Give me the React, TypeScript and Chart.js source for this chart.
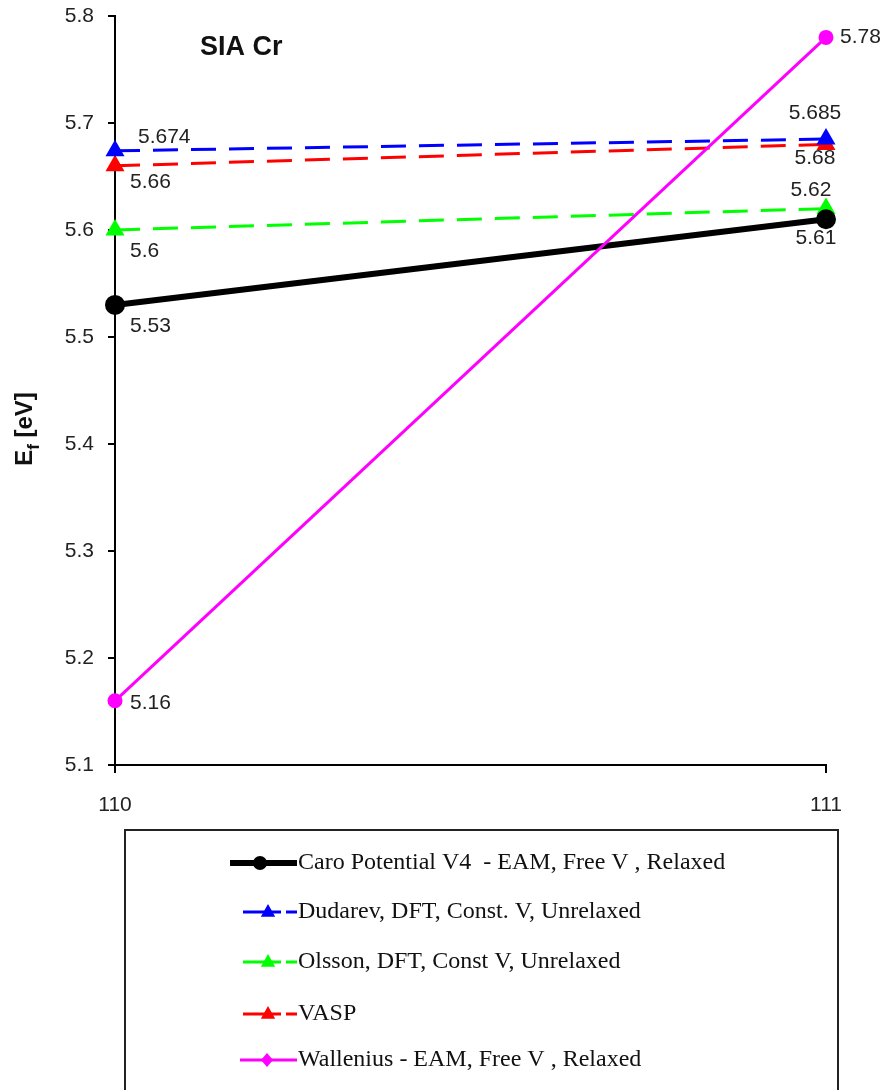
import React, { useEffect, useRef } from "react";
import { Chart, registerables } from "chart.js";

Chart.register(...registerables);

const categories = ["110", "111"];
const caroValues = [5.53, 5.61];
const dudarevValues = [5.674, 5.685];
const olssonValues = [5.6, 5.62];
const vaspValues = [5.66, 5.68];
const walleniusValues = [5.16, 5.78];
const yMin = 5.1;
const yMax = 5.8;
const yStep = 0.1;
const seriesNames = [
  "Caro Potential V4  - EAM, Free V , Relaxed",
  "Dudarev, DFT, Const. V, Unrelaxed",
  "Olsson, DFT, Const V, Unrelaxed",
  "VASP",
  "Wallenius - EAM, Free V , Relaxed",
];
const chartTitle = "SIA Cr";

// label placement (offsets in px from the point)
const labelPlacement = [
  [{ dx: 15, dy: 21, align: "left" }, { dx: -10, dy: 19, align: "center" }],
  [{ dx: 23, dy: -14, align: "left" }, { dx: -11, dy: -26, align: "center" }],
  [{ dx: 15, dy: 21, align: "left" }, { dx: -15, dy: -18, align: "center" }],
  [{ dx: 15, dy: 16, align: "left" }, { dx: -11, dy: 14, align: "center" }],
  [{ dx: 15, dy: 2, align: "left" }, { dx: 14, dy: 0, align: "left" }],
];

const LABEL_FONT = "21px 'Liberation Sans', Arial, sans-serif";

const annotations = {
  id: "annotations",
  afterDatasetsDraw(chart: any) {
    const ctx = chart.ctx;
    ctx.save();
    // data labels
    ctx.font = LABEL_FONT;
    ctx.fillStyle = "#222";
    ctx.textBaseline = "middle";
    chart.data.datasets.forEach((ds: any, di: number) => {
      const meta = chart.getDatasetMeta(di);
      meta.data.forEach((pt: any, pi: number) => {
        const p = labelPlacement[di][pi];
        ctx.textAlign = p.align;
        ctx.fillText(String(ds.data[pi]), pt.x + p.dx, pt.y + p.dy);
      });
    });
    // title
    ctx.font = "bold 27px 'Liberation Sans', Arial, sans-serif";
    ctx.fillStyle = "#111";
    ctx.textAlign = "left";
    ctx.textBaseline = "alphabetic";
    ctx.fillText(chartTitle, 200, 55);

    // y axis title
    ctx.save();
    ctx.translate(32, 429);
    ctx.rotate(-Math.PI / 2);
    ctx.textBaseline = "alphabetic";
    ctx.fillStyle = "#111";
    const mainFont = "bold 24px 'Liberation Sans', Arial, sans-serif";
    const subFont = "bold 17px 'Liberation Sans', Arial, sans-serif";
    ctx.font = mainFont;
    const wE = ctx.measureText("E").width;
    ctx.font = subFont;
    const wf = ctx.measureText("f").width;
    ctx.font = mainFont;
    const wRest = ctx.measureText(" [eV]").width;
    const total = wE + wf + wRest;
    let x = -total / 2;
    ctx.textAlign = "left";
    ctx.fillText("E", x, 0);
    x += wE;
    ctx.font = subFont;
    ctx.fillText("f", x, 7);
    x += wf;
    ctx.font = mainFont;
    ctx.fillText(" [eV]", x, 0);
    ctx.restore();

    // legend box
    const boxL = 125, boxT = 830, boxR = 838, boxB = 1100;
    ctx.strokeStyle = "#222";
    ctx.lineWidth = 2;
    ctx.setLineDash([]);
    ctx.strokeRect(boxL, boxT, boxR - boxL, boxB - boxT);

    const rowYs = [863, 912, 962, 1014, 1060];
    const starts = [230, 243, 243, 243, 240];
    const markX = [260, 268, 268, 268, 267];
    chart.data.datasets.forEach((ds: any, di: number) => {
      const y = rowYs[di];
      const x0 = starts[di];
      const x1 = 297;
      const mx = markX[di];
      ctx.save();
      ctx.strokeStyle = ds.borderColor;
      ctx.lineWidth = ds.borderWidth;
      ctx.setLineDash(ds.borderDash && ds.borderDash.length ? [38, 5] : []);
      ctx.beginPath();
      ctx.moveTo(x0, y);
      ctx.lineTo(x1, y);
      ctx.stroke();
      ctx.setLineDash([]);
      ctx.fillStyle = ds.pointBackgroundColor;
      const r = ds.pointRadius;
      ctx.beginPath();
      if (ds.pointStyle === "triangle") {
        ctx.moveTo(mx, y - r);
        ctx.lineTo(mx + r * 0.9, y + r * 0.6);
        ctx.lineTo(mx - r * 0.9, y + r * 0.6);
        ctx.closePath();
      } else if (di === 4) {
        ctx.moveTo(mx, y - r - 1);
        ctx.lineTo(mx + r, y);
        ctx.lineTo(mx, y + r + 1);
        ctx.lineTo(mx - r, y);
        ctx.closePath();
      } else {
        ctx.arc(mx, y, r, 0, Math.PI * 2);
      }
      ctx.fill();
      ctx.restore();
      ctx.font = "24px 'Liberation Serif', 'Times New Roman', serif";
      ctx.fillStyle = "#111";
      ctx.textAlign = "left";
      ctx.textBaseline = "middle";
      ctx.fillText(ds.label, 298, y);
    });
    ctx.restore();
  },
};

export default function App() {
  const canvasRef = useRef<HTMLCanvasElement | null>(null);

  useEffect(() => {
    const canvas = canvasRef.current;
    if (!canvas) return;
    const chart = new Chart(canvas, {
      type: "line",
      data: {
        labels: categories,
        datasets: [
          {
            label: seriesNames[0],
            data: caroValues,
            borderColor: "#000000",
            backgroundColor: "#000000",
            borderWidth: 6,
            pointStyle: "circle",
            pointRadius: 7,
            pointBackgroundColor: "#000000",
            pointBorderColor: "#000000",
            borderDash: [],
            order: 2,
          },
          {
            label: seriesNames[1],
            data: dudarevValues,
            borderColor: "#0000ff",
            backgroundColor: "#0000ff",
            borderWidth: 3,
            borderDash: [25, 13],
            pointStyle: "triangle",
            pointRadius: 8,
            pointBackgroundColor: "#0000ff",
            pointBorderColor: "#0000ff",
            order: 3,
          },
          {
            label: seriesNames[2],
            data: olssonValues,
            borderColor: "#00ff00",
            backgroundColor: "#00ff00",
            borderWidth: 3,
            borderDash: [25, 13],
            pointStyle: "triangle",
            pointRadius: 8,
            pointBackgroundColor: "#00ff00",
            pointBorderColor: "#00ff00",
            order: 4,
          },
          {
            label: seriesNames[3],
            data: vaspValues,
            borderColor: "#ff0000",
            backgroundColor: "#ff0000",
            borderWidth: 3,
            borderDash: [25, 13],
            pointStyle: "triangle",
            pointRadius: 8,
            pointBackgroundColor: "#ff0000",
            pointBorderColor: "#ff0000",
            order: 5,
          },
          {
            label: seriesNames[4],
            data: walleniusValues,
            borderColor: "#ff00ff",
            backgroundColor: "#ff00ff",
            borderWidth: 3,
            borderDash: [],
            pointStyle: "circle",
            pointRadius: 6,
            pointBackgroundColor: "#ff00ff",
            pointBorderColor: "#ff00ff",
            order: 0,
          },
        ],
      },
      options: {
        animation: false,
        responsive: false,
        maintainAspectRatio: false,
        layout: { padding: { top: 16, right: 60, bottom: 265, left: 0 } },
        plugins: {
          legend: { display: false },
          tooltip: { enabled: false },
          title: { display: false },
        },
        elements: { line: { tension: 0 } },
        scales: {
          x: {
            type: "category",
            offset: false,
            border: { display: true, color: "#000", width: 2 },
            grid: {
              display: true,
              drawOnChartArea: false,
              drawTicks: true,
              tickLength: 8,
              color: "#000",
              lineWidth: 2,
            },
            ticks: {
              color: "#222",
              padding: 20,
              font: { family: "'Liberation Sans', Arial, sans-serif", size: 21 },
              maxRotation: 0,
            },
            afterFit: (scale: any) => {
              scale.height = 60;
              scale.paddingLeft = 0;
              scale.paddingRight = 0;
            },
          },
          y: {
            type: "linear",
            min: yMin,
            max: yMax,
            border: { display: true, color: "#000", width: 2 },
            grid: {
              display: true,
              drawOnChartArea: false,
              drawTicks: true,
              tickLength: 7,
              color: "#000",
              lineWidth: 2,
            },
            ticks: {
              stepSize: yStep,
              color: "#222",
              padding: 14,
              font: { family: "'Liberation Sans', Arial, sans-serif", size: 21 },
              callback: (v: any) => Number(v).toFixed(1),
            },
            afterFit: (scale: any) => {
              scale.width = 115;
              scale.paddingTop = 0;
              scale.paddingBottom = 0;
            },
          },
        },
      },
      plugins: [annotations],
    });
    return () => chart.destroy();
  }, []);

  return (
    <div style={{ position: "fixed", left: 0, top: 0, width: 886, height: 1090, background: "#fff" }}>
      <canvas ref={canvasRef} width={886} height={1090} style={{ display: "block", width: 886, height: 1090 }} />
    </div>
  );
}
